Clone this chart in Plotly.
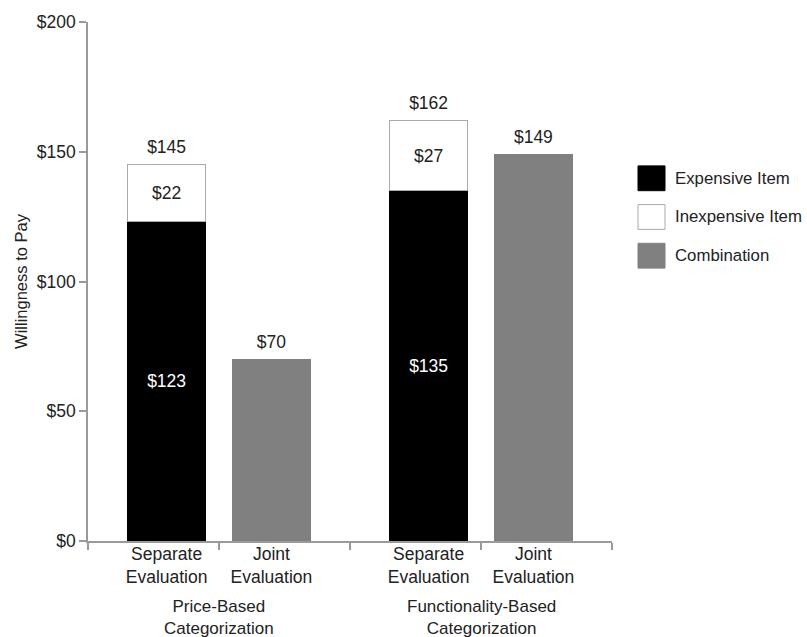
import plotly.graph_objects as go

# ---- data ----
groups = ["Price-Based<br>Categorization", "Functionality-Based<br>Categorization"]
conditions = ["Separate<br>Evaluation", "Joint<br>Evaluation"]
expensive = [123, None, 135, None]
inexpensive = [22, None, 27, None]
combination = [None, 70, None, 149]
y_ticks = [0, 50, 100, 150, 200]

series = [
    ("Expensive Item", expensive, "#000000", "#000000", "white"),
    ("Inexpensive Item", inexpensive, "#ffffff", "#aaaaaa", "#222222"),
    ("Combination", combination, "#808080", "#808080", "#222222"),
]

# ---- layout helpers ----
W, H = 807, 637
ML, MR, MT, MB = 88, 195, 18, 96
PW, PH = W - ML - MR, H - MT - MB
FONT = "Liberation Sans, Arial, sans-serif"
FS = 17.5
TXT = "#222222"
AX = "#9a9a9a"

# category positions: two bars per group, group centres at 1 and 3
xpos, xlabels = [], []
for g in range(len(groups)):
    for m, c in enumerate(conditions):
        xpos.append(2 * g + 1 + (m - 0.5) * 0.8)
        xlabels.append(c)

fig = go.Figure()
for name, vals, col, lcol, tcol in series:
    fig.add_trace(go.Bar(
        x=xpos, y=vals, width=0.6, name=name,
        marker=dict(color=col, line=dict(color=lcol, width=1)),
        text=[None if v is None or name == "Combination" else f"${v}" for v in vals],
        textposition="inside", insidetextanchor="middle", textangle=0,
        constraintext="none",
        textfont=dict(size=FS, color=tcol, family=FONT),
        showlegend=False, hoverinfo="skip",
    ))

totals = [sum(v for v in (e, i, c) if v is not None)
          for e, i, c in zip(expensive, inexpensive, combination)]
fig.add_trace(go.Scatter(
    x=xpos, y=totals, mode="markers+text", text=[f"${t}" for t in totals],
    marker=dict(size=10, opacity=0),
    textposition="top center", textfont=dict(size=FS, color=TXT, family=FONT),
    showlegend=False, hoverinfo="skip",
))

# group labels
for g, gl in enumerate(groups):
    fig.add_annotation(x=2 * g + 1, xref="x", y=0, yref="paper", yanchor="top",
                       yshift=-53.5, text=gl, showarrow=False,
                       font=dict(size=17, color=TXT, family=FONT))

# custom legend (large swatches)
def px_x(p):
    return (p - ML) / PW

def px_y(p):
    return 1 - (p - MT) / PH

for k, (name, vals, col, lcol, tcol) in enumerate(series):
    top = 163 + 39 * k
    fig.add_shape(type="rect", xref="paper", yref="paper",
                  x0=px_x(638), x1=px_x(665), y0=px_y(top), y1=px_y(top + 25),
                  fillcolor=col, line=dict(color=lcol, width=1))
    fig.add_annotation(xref="paper", yref="paper", x=px_x(673), y=px_y(top + 12.5),
                       xanchor="left", yanchor="middle", text=name, showarrow=False,
                       font=dict(size=16.8, color=TXT, family=FONT))

fig.update_layout(
    width=W, height=H, margin=dict(l=ML, r=MR, t=MT, b=MB),
    plot_bgcolor="white", paper_bgcolor="white", barmode="stack",
    font=dict(family=FONT, size=FS, color=TXT),
    xaxis=dict(range=[0, 4], tickvals=xpos, ticktext=xlabels, ticks="",
               showline=True, linecolor=AX, linewidth=1.5, showgrid=False,
               zeroline=False, ticklabelstandoff=-4, automargin=False,
               minor=dict(tickmode="linear", tick0=0, dtick=1, ticks="outside",
                          ticklen=7, tickcolor=AX, tickwidth=1.5, showgrid=False),
               tickfont=dict(size=FS, color=TXT, family=FONT)),
    yaxis=dict(range=[0, 200], tickvals=y_ticks, ticktext=[f"${v}" for v in y_ticks],
               ticks="outside", ticklen=7, tickcolor=AX, tickwidth=1.5,
               showline=True, linecolor=AX, linewidth=1.5, showgrid=False,
               zeroline=False, tickfont=dict(size=FS, color=TXT, family=FONT),
               automargin=True,
               title=dict(text="Willingness to Pay", standoff=5,
                          font=dict(size=16.5, color=TXT, family=FONT))),
)

fig.write_html("out.html")
